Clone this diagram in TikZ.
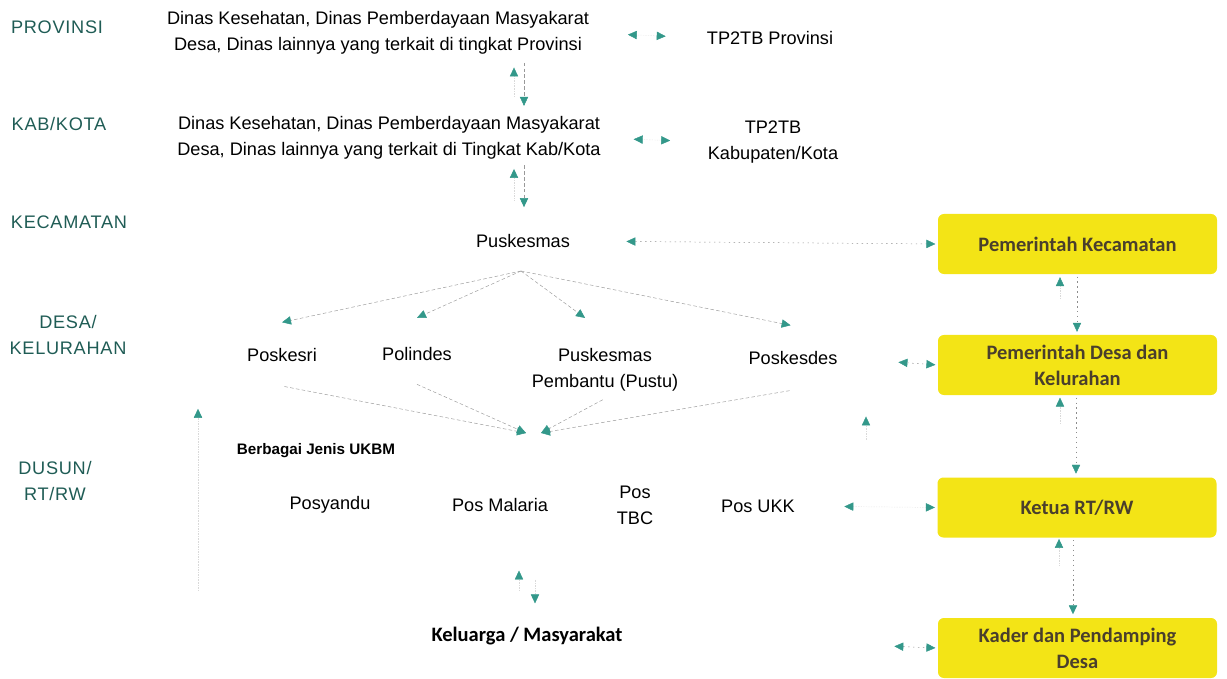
\documentclass[tikz,border=0pt]{standalone}
\usepackage{fontspec}
\setmainfont{Liberation Sans}
\newfontfamily\carlito{Carlito}
\newfontfamily\levelfont[LetterSpace=4]{Liberation Sans}
\usetikzlibrary{arrows.meta}
\definecolor{leveltxt}{HTML}{1F5C55}
\definecolor{tiptl}{HTML}{33988A}
\definecolor{ybox}{HTML}{F3E416}
\definecolor{boxtxt}{HTML}{4A3F2C}
\tikzset{
  lvl/.style={font=\levelfont\fontsize{15.5}{23}\selectfont, text=leveltxt, align=center, inner sep=0pt},
  txt/.style={font=\fontsize{15.5}{22}\selectfont, align=center, inner sep=0pt},
  kbold/.style={font=\carlito\bfseries\fontsize{17.5}{24}\selectfont, inner sep=0pt},
  gov/.style={fill=ybox, rounded corners=5pt, align=center, text=boxtxt, font=\carlito\bfseries\fontsize{17.5}{22}\selectfont, minimum width=8.37cm, minimum height=1.8cm, inner sep=2pt},
  wire/.style={densely dashed, draw=black!40, line width=0.4pt},
  dotwire/.style={dash pattern=on 1.2pt off 3pt, draw=black!45, line width=0.4pt},
  faint/.style={densely dotted, draw=black!15, line width=0.4pt},
  flow/.style={-{Triangle[length=2.7mm, width=2.5mm, color=tiptl]}},
  flow2/.style={{Triangle[length=2.7mm, width=2.5mm, color=tiptl]}-{Triangle[length=2.7mm, width=2.5mm, color=tiptl]}},
}
\begin{document}
\begin{tikzpicture}[x=0.03cm, y=-0.03cm]
  \useasboundingbox (0,0) rectangle (1227,679);
  % tingkat
  \node[lvl] (lvProv) at (57,27) {PROVINSI};
  \node[lvl] (lvKab) at (59,124) {KAB/KOTA};
  \node[lvl] (lvKec) at (69,222) {KECAMATAN};
  \node[lvl] (lvDesa) at (68,335) {DESA/\\KELURAHAN};
  \node[lvl] (lvDusun) at (55,481) {DUSUN/\\RT/RW};
  % dinas dan TP2TB
  \node[txt] (dinP) at (378,33) {Dinas Kesehatan, Dinas Pemberdayaan Masyakarat\\Desa, Dinas lainnya yang terkait di tingkat Provinsi};
  \node[txt] (tpP) at (770,38) {TP2TB Provinsi};
  \node[txt] (dinK) at (389,138) {Dinas Kesehatan, Dinas Pemberdayaan Masyakarat\\Desa, Dinas lainnya yang terkait di Tingkat Kab/Kota};
  \node[txt] (tpK) at (773,142) {TP2TB\\Kabupaten/Kota};
  \node[txt] (pkm) at (523,241) {Puskesmas};
  % desa
  \node[txt] (poskesri) at (282,355) {Poskesri};
  \node[txt] (polindes) at (417,354) {Polindes};
  \node[txt] (pustu) at (605,370) {Puskesmas\\Pembantu (Pustu)};
  \node[txt] (poskesdes) at (793,358) {Poskesdes};
  % UKBM
  \node[font=\bfseries\fontsize{13}{16}\selectfont, inner sep=0pt] (ukbm) at (316,451) {Berbagai Jenis UKBM};
  \node[txt] (posyandu) at (330,505) {Posyandu};
  \node[txt] (posmal) at (500,505) {Pos Malaria};
  \node[txt] (postbc) at (635,505) {Pos\\TBC};
  \node[txt] (posukk) at (758,506) {Pos UKK};
  \node[kbold] (kelu) at (527,636) {Keluarga / Masyarakat};
  % pemerintah
  \node[gov] (pemKec) at (1077.5,244) {Pemerintah Kecamatan};
  \node[gov] (pemDesa) at (1077.5,365) {Pemerintah Desa dan\\Kelurahan};
  \node[gov] (ketua) at (1077,507.5) {Ketua RT/RW};
  \node[gov] (kader) at (1077.5,648) {Kader dan Pendamping\\Desa};
  \coordinate (pkmHub) at (521,271);
  \coordinate (ukbmL) at (526,433);
  \coordinate (ukbmR) at (541,433);
  % dinas - TP2TB
  \draw[faint, flow2, shorten <=33pt, shorten >=35pt] (dinP.east) -- (tpP.west);
  \draw[faint, flow2, shorten <=28pt, shorten >=32pt] (dinK.east) -- (tpK.west);
  \draw[wire, flow, shorten <=7pt, shorten >=9pt] (524,0 |- dinP.south) -- (524,0 |- dinK.north);
  \draw[faint, flow, shorten <=17pt, shorten >=11pt] (514,0 |- dinK.north) -- (514,0 |- dinP.south);
  \draw[wire, flow, shorten <=5pt, shorten >=23pt] (524,0 |- dinK.south) -- (524,0 |- pkm.north);
  \draw[faint, flow, shorten <=29pt, shorten >=8pt] (514,0 |- pkm.north) -- (514,0 |- dinK.south);
  % puskesmas
  \draw[dotwire, flow2, shorten <=48pt, shorten >=2pt] (pkm.east) -- (pemKec.west);
  \draw[wire, flow] (pkmHub) -- ([yshift=22pt]poskesri.north);
  \draw[wire, flow] (pkmHub) -- ([yshift=25pt]polindes.north);
  \draw[wire, flow] (pkmHub) -- ([xshift=-17pt, yshift=26pt]pustu.north);
  \draw[wire, flow] (pkmHub) -- ([xshift=-2pt, yshift=22pt]poskesdes.north);
  % desa ke UKBM
  \draw[wire, flow] ([xshift=2pt, yshift=-21pt]poskesri.south) -- (ukbmL);
  \draw[wire, flow] ([yshift=-20pt]polindes.south) -- (ukbmL);
  \draw[wire, flow] ([xshift=-2pt, yshift=-7pt]pustu.south) -- (ukbmR);
  \draw[wire, flow] ([xshift=-3pt, yshift=-22pt]poskesdes.south) -- (ukbmR);
  \draw[dotwire, flow2, shorten <=52pt, shorten >=2pt] (poskesdes.east) -- (pemDesa.west);
  \draw[faint, flow, shorten <=51pt, shorten >=44pt] (866,0 |- posukk.north) -- (866,0 |- poskesdes.south);
  \draw[faint, flow, shorten <=31pt, shorten >=40pt] (198,0 |- kelu.north) -- (198,0 |- poskesri.south);
  % UKBM dan keluarga
  \draw[faint, flow2, shorten <=42pt, shorten >=2pt] (posukk.east) -- (ketua.west);
  \draw[faint, flow, shorten <=31pt, shorten >=50pt] (519,0 |- kelu.north) -- (519,0 |- posmal.south);
  \draw[faint, flow, shorten <=58pt, shorten >=20pt] (535,0 |- posmal.south) -- (535,0 |- kelu.north);
  \draw[dotwire, flow2, shorten <=232pt, shorten >=2pt] (kelu.east) -- (kader.west);
  % antar pemerintah
  \draw[faint, flow, shorten <=31pt, shorten >=2.5pt] (1060,0 |- pemDesa.north) -- (1060,0 |- pemKec.south);
  \draw[dotwire, flow, shorten <=2pt, shorten >=2.5pt] (1077,0 |- pemKec.south) -- (1077,0 |- pemDesa.north);
  \draw[faint, flow, shorten <=46pt, shorten >=2pt] (1060,0 |- ketua.north) -- (1060,0 |- pemDesa.south);
  \draw[dotwire, flow, shorten <=2pt, shorten >=3pt] (1076,0 |- pemDesa.south) -- (1076,0 |- ketua.north);
  \draw[faint, flow, shorten <=45pt, shorten >=1pt] (1059,0 |- kader.north) -- (1059,0 |- ketua.south);
  \draw[dotwire, flow, shorten <=2pt, shorten >=3pt] (1073,0 |- ketua.south) -- (1073,0 |- kader.north);
\end{tikzpicture}
\end{document}
